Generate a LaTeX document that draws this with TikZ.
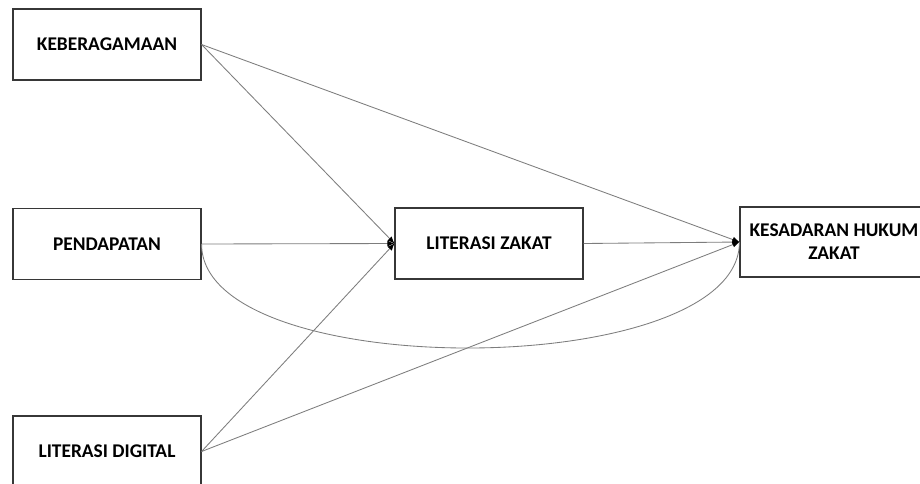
\documentclass[tikz,border=0pt]{standalone}
\usepackage{fontspec}
\setmainfont{Carlito}
\usetikzlibrary{arrows.meta}
\definecolor{linegray}{RGB}{125,125,125}
\definecolor{boxgray}{RGB}{55,55,55}
\tikzset{
  varbox/.style={draw=boxgray, line width=1.1pt, minimum width=188pt, minimum height=71pt,
    inner sep=0pt, align=center, font=\fontsize{19.4}{23}\selectfont\bfseries, text=black},
  path/.style={draw=linegray, line width=0.85pt},
  arr/.style={path, -{Latex[length=7pt,width=6pt,color=black]}}
}
\begin{document}
\begin{tikzpicture}[x=1pt,y=-1pt]
\useasboundingbox (0,0) rectangle (920,483);
\fill[white] (0,0) rectangle (920,483);
\node[varbox] (keb) at (107,44.5) {KEBERAGAMAAN};
\node[varbox] (pend) at (107,244) {PENDAPATAN};
\node[varbox] (ld) at (107,451.5) {LITERASI DIGITAL};
\node[varbox] (lz) at (489,243.5) {LITERASI ZAKAT};
\node[varbox, minimum height=70pt] (khz) at (834,242) {KESADARAN HUKUM\\ZAKAT};
\draw[arr] (keb.east) -- (lz.west);
\draw[arr] (pend.east) -- (lz.west);
\draw[arr] (ld.east) -- (lz.west);
\draw[arr] (keb.east) -- (khz.west);
\draw[arr] (lz.east) -- (khz.west);
\draw[arr] (ld.east) -- (khz.west);
\draw[path] (pend.east) .. controls +(0,140) and +(0,140) .. (khz.west);
\end{tikzpicture}
\end{document}
